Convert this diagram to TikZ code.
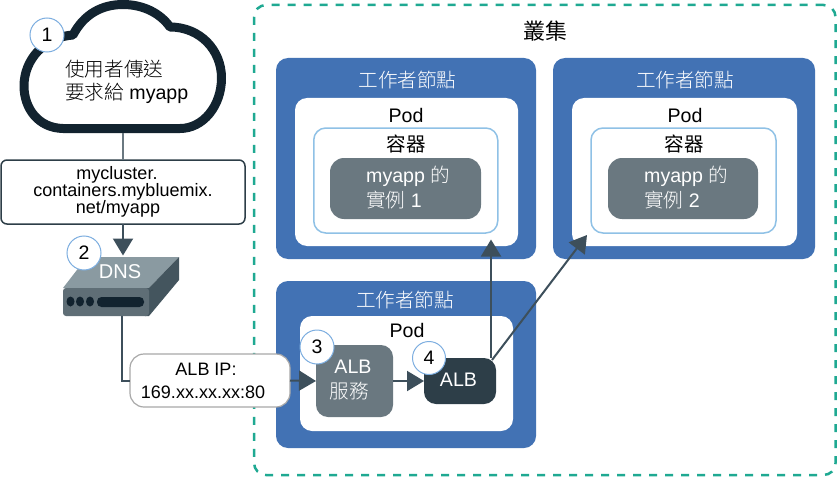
\documentclass[tikz,border=0pt]{standalone}
\usepackage{fontspec}
\setmainfont{Liberation Sans}
\newfontfamily\cjk{Noto Sans CJK TC Light}
\newfontfamily\cjkreg{Noto Sans CJK TC}
\usetikzlibrary{arrows.meta}
\definecolor{wkblue}{HTML}{4272B4}
\definecolor{slate}{HTML}{6A7880}
\definecolor{albdark}{HTML}{2D3E48}
\definecolor{teal}{HTML}{1FA992}
\definecolor{contline}{HTML}{8FC1E6}
\definecolor{circline}{HTML}{7DAEE0}
\definecolor{conn}{HTML}{3D4F5B}
\definecolor{cloudline}{HTML}{12232F}
\definecolor{dnstop}{HTML}{8A9AA1}
\definecolor{dnsfront}{HTML}{5F6E76}
\definecolor{dnsside}{HTML}{44555E}
\definecolor{ipline}{HTML}{A8A8A8}
\tikzset{
  box/.style={rectangle,inner sep=0pt,outer sep=0pt},
  worker/.style={box,fill=wkblue,rounded corners=12pt},
  podbox/.style={box,fill=white,rounded corners=12pt},
  contbox/.style={box,fill=white,draw=contline,line width=1.5pt,rounded corners=12pt},
  inst/.style={box,fill=slate,rounded corners=14pt},
  urlbox/.style={box,fill=white,draw=albdark,line width=1.5pt,rounded corners=6pt,align=center,font=\fontsize{18}{17}\selectfont},
  ipbox/.style={box,fill=white,draw=ipline,line width=1.2pt,rounded corners=14pt,align=center,font=\fontsize{18}{23}\selectfont},
  num/.style={circle,fill=white,draw=circline,line width=1pt,minimum size=34pt,inner sep=0pt,font=\fontsize{19.5}{19.5}\selectfont},
  lab/.style={inner sep=0pt,font=\fontsize{19.6}{23}\selectfont},
  wlab/.style={lab,text=white},
  conline/.style={draw=conn,line width=2pt},
  arr/.style={conline,-{Triangle[length=17pt,width=20pt]}},
}
\begin{document}
\begin{tikzpicture}[x=1pt,y=-1pt]
\useasboundingbox (0,0) rectangle (837,476);
\fill[white] (0,0) rectangle (837,476);
% cluster
\node[box,draw=teal,line width=2.5pt,dash pattern=on 8pt off 8pt,rounded corners=12pt,minimum width=581.5pt,minimum height=470pt] (cluster) at (544.8,240) {};
\node[lab,font=\fontsize{22}{22}\selectfont] (clusterlab) at (545.5,31) {\cjkreg 叢集};
% worker 1
\node[worker,minimum width=260pt,minimum height=201pt] (w1) at (406,158.5) {};
\node[wlab] (w1lab) at (407.5,80) {\cjk 工作者節點};
\node[podbox,minimum width=223pt,minimum height=148pt] (p1) at (406.5,172) {};
\node[lab] (p1lab) at (406,115) {Pod};
\node[contbox,minimum width=184pt,minimum height=105pt] (c1) at (405.75,180.5) {};
\node[lab] (c1lab) at (406,144) {\cjkreg 容器};
\node[inst,minimum width=151pt,minimum height=61pt] (i1) at (405.5,188.5) {};
\node[wlab,anchor=west,align=left,font=\fontsize{19.6}{25}\selectfont] (i1lab) at (366,187.5) {myapp {\cjk 的}\\{\cjk 實例} 1};
% worker 2
\node[worker,minimum width=262pt,minimum height=201pt] (w2) at (684,158.5) {};
\node[wlab] (w2lab) at (685,80) {\cjk 工作者節點};
\node[podbox,minimum width=225pt,minimum height=148pt] (p2) at (684.5,172) {};
\node[lab] (p2lab) at (685,115) {Pod};
\node[contbox,minimum width=185pt,minimum height=105pt] (c2) at (683.5,180.5) {};
\node[lab] (c2lab) at (684,144) {\cjkreg 容器};
\node[inst,minimum width=150pt,minimum height=61pt] (i2) at (683,188.5) {};
\node[wlab,anchor=west,align=left,font=\fontsize{19.6}{25}\selectfont] (i2lab) at (644,187.5) {myapp {\cjk 的}\\{\cjk 實例} 2};
% worker 3
\node[worker,minimum width=260pt,minimum height=167pt] (w3) at (406,364.5) {};
\node[wlab] (w3lab) at (405,300) {\cjk 工作者節點};
\node[podbox,minimum width=213pt,minimum height=115pt] (p3) at (406.5,373.5) {};
\node[lab] (p3lab) at (407,330) {Pod};
\node[inst,minimum width=77pt,minimum height=72pt,rounded corners=12pt] (svc) at (354.5,381) {};
\node[wlab,align=center,font=\fontsize{19.6}{26}\selectfont] (svclab) at (353,380) {ALB\\[-1pt]\hspace*{-8pt}{\cjk 服務}};
\node[box,fill=albdark,rounded corners=12pt,minimum width=72pt,minimum height=46pt] (alb) at (460,381) {};
\node[wlab] (alblab) at (458.5,380) {ALB};
% cloud
\draw[cloudline,line width=9pt,fill=white,line join=round]
  (63,128.5) .. controls (38,128) and (24,108) .. (24,86)
  .. controls (24,60) and (44,37) .. (73,35)
  .. controls (84,14) and (102,4.5) .. (123,4.5)
  .. controls (143,4.5) and (160,13) .. (170,27)
  .. controls (200,27) and (221.5,50) .. (221.5,78)
  .. controls (221.5,106) and (203,128.5) .. (180,128.5) -- cycle;
\coordinate (cloudbase) at (122.5,133);
\node[lab,anchor=west,align=left] (cloudlab) at (65,81.5) {\cjk 使用者傳送\\{\cjk 要求給} myapp};
% url box
\node[urlbox,minimum width=244pt,minimum height=64pt] (url) at (123,192) {mycluster.\hspace*{12pt}\\containers.mybluemix.\\net/myapp\hspace*{10pt}};
\draw[conline,draw=slate] (cloudbase) -- (url.north -| cloudbase);
% dns
\draw[fill=dnstop,draw=none] (63,288) -- (87,257) -- (179,257) -- (149,288) -- cycle;
\draw[fill=dnsside,draw=none] (179,257) -- (179,280) -- (149,316) -- (145,316) -- (145,288) -- (149,288) -- cycle;
\draw[fill=dnsfront,draw=none,rounded corners=3pt] (63,288) -- (149,288) -- (149,316) -- (63,316) -- cycle;
\fill[cloudline] (70.5,301.5) ellipse (4pt and 5pt) (80,301.5) ellipse (4pt and 5pt) (90,301.5) ellipse (4pt and 5pt);
\fill[cloudline,rounded corners=4.5pt] (97,297) rectangle (144,307);
\node[wlab,font=\fontsize{20}{20}\selectfont] (dnslab) at (120,272) {DNS};
\coordinate (dnstip) at (123,255.5);
\coordinate (dnsbot) at (122,316);
\draw[arr] (url.south -| dnstip) -- (dnstip);
% ALB IP box
\node[ipbox,minimum width=160pt,minimum height=53pt] (ip) at (210,380.5) {ALB IP:\hspace*{8pt}\\169.xx.xx.xx:80\hspace*{14pt}};
\draw[conline] (dnsbot) |- (ip.west);
\draw[arr] (ip.east) -- (svc.west);
\draw[arr] (svc.east) -- (alb.west);
\coordinate (p1tip) at (491,239.5);
\coordinate (p2tip) at (587,235);
\coordinate (albout) at (492,360);
\draw[arr] (alb.north -| p1tip) -- (p1tip);
\draw[arr] (albout) -- (p2tip);
% numbers
\node[num] (n1) at (47,35) {1};
\node[num] (n2) at (84,253) {2};
\node[num] (n3) at (317,347) {3};
\node[num,minimum size=33pt] (n4) at (429,358) {4};
\end{tikzpicture}
\end{document}
